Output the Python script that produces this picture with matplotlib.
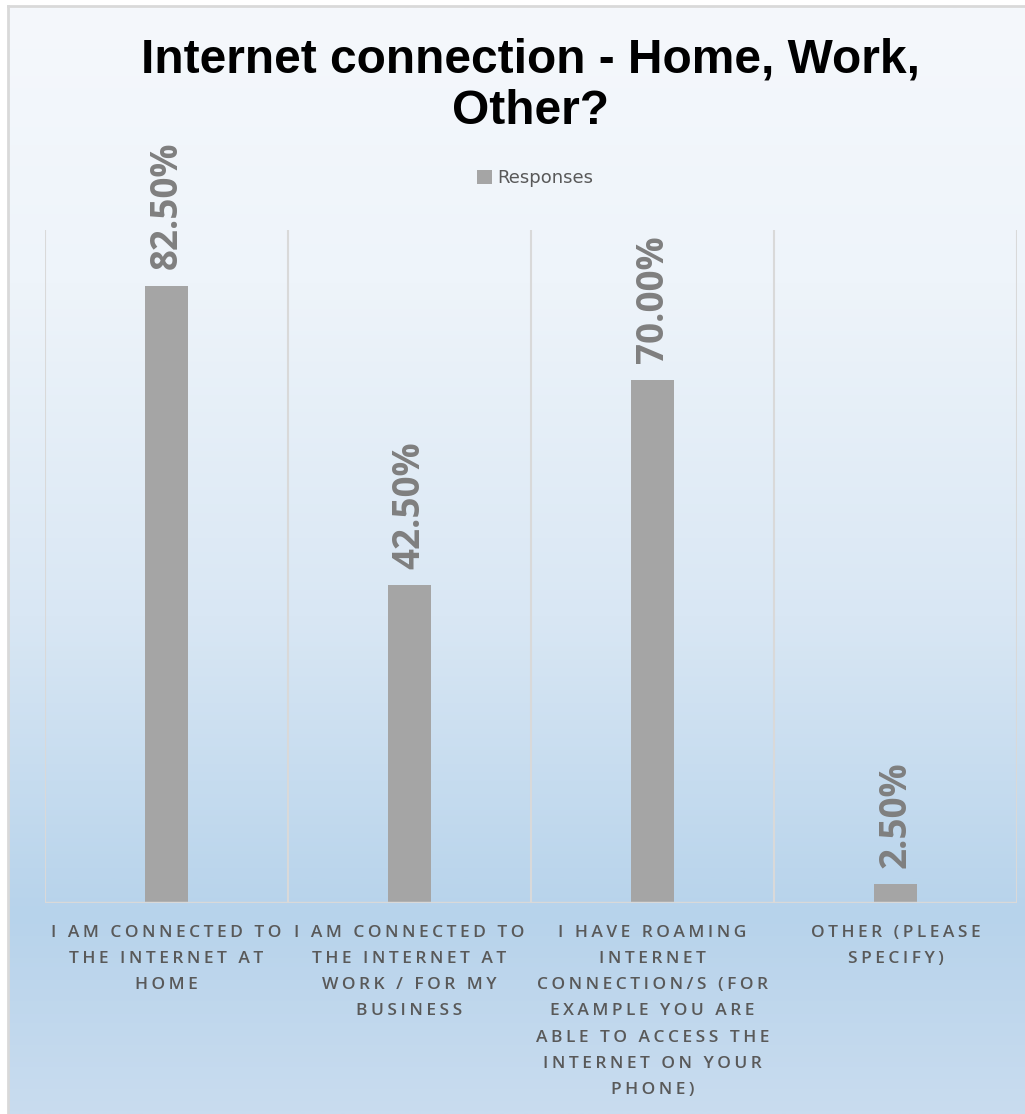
import numpy as np
import matplotlib
matplotlib.use("Agg")
import matplotlib.pyplot as plt
from matplotlib.colors import LinearSegmentedColormap

# ---- data ----
categories = [
    "I AM CONNECTED TO\nTHE INTERNET AT\nHOME",
    "I AM CONNECTED TO\nTHE INTERNET AT\nWORK / FOR MY\nBUSINESS",
    "I HAVE ROAMING\nINTERNET\nCONNECTION/S (FOR\nEXAMPLE YOU ARE\nABLE TO ACCESS THE\nINTERNET ON YOUR\nPHONE)",
    "OTHER (PLEASE\nSPECIFY)",
]
responses = [82.5, 42.5, 70.0, 2.5]
value_labels = ["82.50%", "42.50%", "70.00%", "2.50%"]
series_name = "Responses"
title = "Internet connection - Home, Work,\nOther?"


def tracked(s, sp="\u2009"):
    return "\n".join(sp.join(line) for line in s.split("\n"))


W, H = 1025, 1114
fig = plt.figure(figsize=(W / 100, H / 100), dpi=100)
fig.patch.set_facecolor("white")

# background gradient
bg = fig.add_axes([8 / W, 0, 1 - 8 / W, 1 - 6 / H], zorder=-10)
cmap = LinearSegmentedColormap.from_list(
    "bg",
    [(0.0, "#f5f8fc"), (0.25, "#eef4fa"), (0.55, "#d9e7f4"), (0.82, "#b7d3eb"), (1.0, "#c9dcef")],
)
grad = np.linspace(0, 1, 512).reshape(-1, 1)
bg.imshow(grad, aspect="auto", cmap=cmap, extent=[0, 1, 0, 1], origin="upper")
bg.set_xlim(0, 1)
bg.set_ylim(0, 1)
for s in ["right", "bottom"]:
    bg.spines[s].set_visible(False)
for s in ["left", "top"]:
    bg.spines[s].set_color("#d9d9d9")
    bg.spines[s].set_linewidth(2)
bg.set_xticks([])
bg.set_yticks([])

# main axes
ax = fig.add_axes([45 / W, 1 - 903 / H, (1017 - 45) / W, (903 - 230) / H])
ax.patch.set_alpha(0)
x = np.arange(len(categories))
bars = ax.bar(x, responses, width=0.18, color="#a5a5a5", zorder=3, label=series_name)
ax.set_xlim(-0.5, len(categories) - 0.5)
ax.set_ylim(0, 90)
for s in ax.spines.values():
    s.set_visible(False)
ax.set_xticks([])
ax.set_yticks([])
for b in np.arange(-0.5, len(categories), 1.0):
    ax.axvline(b, color="#d9d9d9", lw=1.5, zorder=1)
ax.axhline(0, color="#d9d9d9", lw=2.5, zorder=4)

for xi, v, lab in zip(x, responses, value_labels):
    ax.annotate(lab, (xi, v), xytext=(0, 12), textcoords="offset points",
                rotation=90, ha="center", va="bottom", fontsize=26.5,
                fontweight="bold", color="#7f7f7f", family="Open Sans")

for xi, cat in zip(x, categories):
    ax.text(xi, -0.032, tracked(cat), transform=ax.get_xaxis_transform(), ha="center", va="top",
            fontsize=12.5, color="#595959", family=["Open Sans", "DejaVu Sans"],
            fontweight="semibold", linespacing=1.86)

fig.text(0.518, 1 - 86 / H, title, ha="center", va="center", fontsize=34.5,
         fontweight="bold", family="Liberation Sans", color="black", linespacing=1.2)

leg = fig.legend(handles=[bars], labels=[series_name], loc="center",
                 bbox_to_anchor=(535 / W, 1 - 178 / H), frameon=False,
                 fontsize=13, handlelength=0.8, handleheight=0.8, handletextpad=0.3,
                 labelcolor="#595959")

fig.savefig("out.png", dpi=100)
